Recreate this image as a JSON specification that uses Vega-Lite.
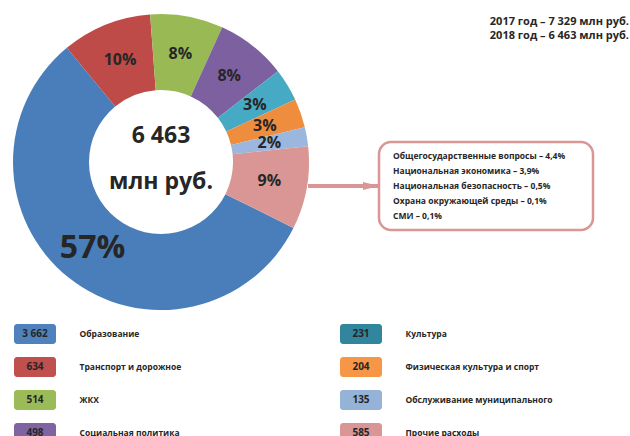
{
  "$schema": "https://vega.github.io/schema/vega-lite/v6.json",
  "padding": {"left": 13, "top": 0, "right": 0, "bottom": 0},
  "background": "white",
  "spacing": 0,
  "bounds": "full",
  "resolve": {"scale": {"color": "independent"}},
  "config": {
    "view": {"stroke": null},
    "font": "Open Sans",
    "locale": {"number": {"decimal": ",", "thousands": " ", "grouping": [3], "currency": ["", ""]}}
  },
  "datasets": {
    "budget": [
      {"name": "Образование", "value": 3662, "share": 0.57},
      {"name": "Транспорт и дорожное", "value": 634, "share": 0.10},
      {"name": "ЖКХ", "value": 514, "share": 0.08},
      {"name": "Социальная политика", "value": 498, "share": 0.08},
      {"name": "Культура", "value": 231, "share": 0.03},
      {"name": "Физическая культура и спорт", "value": 204, "share": 0.03},
      {"name": "Обслуживание муниципального", "value": 135, "share": 0.02},
      {"name": "Прочие расходы", "value": 585, "share": 0.09}
    ],
    "center": [{"label": "6 463\nмлн руб."}],
    "totals": [
      {"kind": "Итого", "label": "2017 год – 7 329 млн руб."},
      {"kind": "Итого", "label": "2018 год – 6 463 млн руб."}
    ],
    "link": [{"to": "Прочие расходы"}],
    "other": [
      {"group": "Прочие расходы", "line": "Общегосударственные вопросы – 4,4%"},
      {"group": "Прочие расходы", "line": "Национальная экономика – 3,9%"},
      {"group": "Прочие расходы", "line": "Национальная безопасность – 0,5%"},
      {"group": "Прочие расходы", "line": "Охрана окружающей среды – 0,1%"},
      {"group": "Прочие расходы", "line": "СМИ – 0,1%"}
    ]
  },
  "vconcat": [
    {
      "hconcat": [
        {
          "width": 294,
          "height": 324,
          "layer": [
            {
              "data": {"name": "budget"},
              "transform": [{"window": [{"op": "row_number", "as": "rank"}]}],
              "mark": {"type": "arc", "innerRadius": 72, "outerRadius": 148},
              "encoding": {
                "theta": {"field": "value", "type": "quantitative", "stack": true, "scale": {"range": [2.0333, 8.3165]}},
                "order": {"field": "rank", "type": "quantitative"},
                "color": {
                  "field": "name", "type": "nominal",
                  "sort": ["Образование", "Транспорт и дорожное", "ЖКХ", "Социальная политика", "Культура", "Физическая культура и спорт", "Обслуживание муниципального", "Прочие расходы"],
                  "scale": {"range": ["#4A7EBB", "#BE4B48", "#98B954", "#7D60A0", "#46AAC5", "#EF8D3F", "#9CB7DE", "#D99694"]},
                  "legend": null
                }
              }
            },
            {
              "data": {"name": "budget"},
              "transform": [{"window": [{"op": "row_number", "as": "rank"}]}],
              "mark": {"type": "text", "radius": 110, "fontWeight": "bold", "font": "Open Sans", "color": "#262626"},
              "encoding": {
                "theta": {"field": "value", "type": "quantitative", "stack": true},
                "order": {"field": "rank", "type": "quantitative"},
                "text": {"field": "share", "type": "quantitative", "format": ".0%"},
                "size": {"condition": {"test": "datum.name === 'Образование'", "value": 32}, "value": 16}
              }
            },
            {
              "data": {"name": "center"},
              "mark": {"type": "text", "fontSize": 23, "fontWeight": "bold", "font": "Open Sans", "lineBreak": "\n", "lineHeight": 46, "baseline": "middle", "dy": -26, "color": "#262626"},
              "encoding": {"text": {"field": "label"}}
            }
          ]
        },
        {
          "vconcat": [
            {
              "width": 321,
              "height": 58,
              "data": {"name": "totals"},
              "mark": {"type": "text", "align": "right", "fontWeight": "bold", "fontSize": 11, "font": "Open Sans", "color": "#262626"},
              "encoding": {
                "x": {"field": "kind", "type": "nominal", "axis": null, "bandPosition": 1, "scale": {"type": "band", "paddingInner": 0, "paddingOuter": 0}},
                "y": {"field": "label", "type": "nominal", "axis": null, "sort": null, "scale": {"type": "band", "paddingInner": 0, "paddingOuter": 1.417}},
                "text": {"field": "label"}
              }
            },
            {
              "hconcat": [
                {
                  "width": 71,
                  "height": 88,
                  "data": {"name": "link"},
                  "layer": [
                    {
                      "mark": {"type": "rule", "color": "#D99694", "strokeWidth": 4},
                      "encoding": {"y": {"field": "to", "type": "nominal", "axis": null, "scale": {"type": "point"}}}
                    },
                    {
                      "mark": {"type": "point", "shape": "M-1,-0.5L1,0L-1,0.5Z", "filled": true, "color": "#D99694", "size": 256, "opacity": 1, "xOffset": -8},
                      "encoding": {
                        "y": {"field": "to", "type": "nominal", "axis": null, "scale": {"type": "point"}},
                        "x": {"field": "to", "type": "nominal", "axis": null, "bandPosition": 1, "scale": {"type": "band", "paddingInner": 0, "paddingOuter": 0}}
                      }
                    }
                  ]
                },
                {
                  "width": 214,
                  "height": 88,
                  "view": {"stroke": "#D99694", "strokeWidth": 2.5, "cornerRadius": 12, "fill": "white"},
                  "data": {"name": "other"},
                  "mark": {"type": "text", "align": "left", "dx": 14, "fontWeight": "bold", "fontSize": 8.5, "font": "Open Sans", "color": "#262626"},
                  "encoding": {
                    "x": {"field": "group", "type": "nominal", "axis": null, "bandPosition": 0, "scale": {"type": "band", "paddingInner": 0, "paddingOuter": 0}},
                    "y": {"field": "line", "type": "nominal", "axis": null, "sort": null, "scale": {"type": "band", "paddingInner": 0, "paddingOuter": 0.4}},
                    "text": {"field": "line"}
                  }
                }
              ],
              "spacing": 0,
              "bounds": "flush"
            }
          ],
          "spacing": 84,
          "bounds": "flush"
        }
      ],
      "spacing": 0,
      "bounds": "flush"
    },
    {
      "hconcat": [
        {
          "width": 42,
          "height": 119,
          "data": {"name": "budget"},
          "transform": [{"filter": {"field": "name", "oneOf": ["Образование", "Транспорт и дорожное", "ЖКХ", "Социальная политика"]}}],
          "encoding": {
            "y": {
              "field": "name", "type": "nominal", "sort": null,
              "scale": {"type": "band", "paddingInner": 0.394, "paddingOuter": 0},
              "axis": {"orient": "right", "title": null, "domain": false, "ticks": false, "labelPadding": 23, "labelFont": "Open Sans", "labelFontWeight": "bold", "labelFontSize": 8.5, "labelColor": "#262626", "labelLimit": 300}
            }
          },
          "layer": [
            {
              "mark": {"type": "rect", "cornerRadius": 3},
              "encoding": {
                "color": {
                  "field": "name", "type": "nominal",
                  "scale": {
                    "domain": ["Образование", "Транспорт и дорожное", "ЖКХ", "Социальная политика", "Культура", "Физическая культура и спорт", "Обслуживание муниципального", "Прочие расходы"],
                    "range": ["#4F81BD", "#C0504D", "#9BBB59", "#8064A2", "#31859C", "#F79646", "#95B3D7", "#D99694"]
                  },
                  "legend": null
                }
              }
            },
            {
              "mark": {"type": "text", "fontWeight": "bold", "fontSize": 10, "font": "Open Sans", "color": "#262626"},
              "encoding": {"text": {"field": "value", "type": "quantitative", "format": ",d"}}
            }
          ]
        },
        {
          "width": 42,
          "height": 119,
          "data": {"name": "budget"},
          "transform": [{"filter": {"field": "name", "oneOf": ["Культура", "Физическая культура и спорт", "Обслуживание муниципального", "Прочие расходы"]}}],
          "encoding": {
            "y": {
              "field": "name", "type": "nominal", "sort": null,
              "scale": {"type": "band", "paddingInner": 0.394, "paddingOuter": 0},
              "axis": {"orient": "right", "title": null, "domain": false, "ticks": false, "labelPadding": 23, "labelFont": "Open Sans", "labelFontWeight": "bold", "labelFontSize": 8.5, "labelColor": "#262626", "labelLimit": 300}
            }
          },
          "layer": [
            {
              "mark": {"type": "rect", "cornerRadius": 3},
              "encoding": {
                "color": {
                  "field": "name", "type": "nominal",
                  "scale": {
                    "domain": ["Образование", "Транспорт и дорожное", "ЖКХ", "Социальная политика", "Культура", "Физическая культура и спорт", "Обслуживание муниципального", "Прочие расходы"],
                    "range": ["#4F81BD", "#C0504D", "#9BBB59", "#8064A2", "#31859C", "#F79646", "#95B3D7", "#D99694"]
                  },
                  "legend": null
                }
              }
            },
            {
              "mark": {"type": "text", "fontWeight": "bold", "fontSize": 10, "font": "Open Sans", "color": "#262626"},
              "encoding": {"text": {"field": "value", "type": "quantitative", "format": ",d"}}
            }
          ]
        }
      ],
      "spacing": 284,
      "bounds": "flush"
    }
  ]
}
